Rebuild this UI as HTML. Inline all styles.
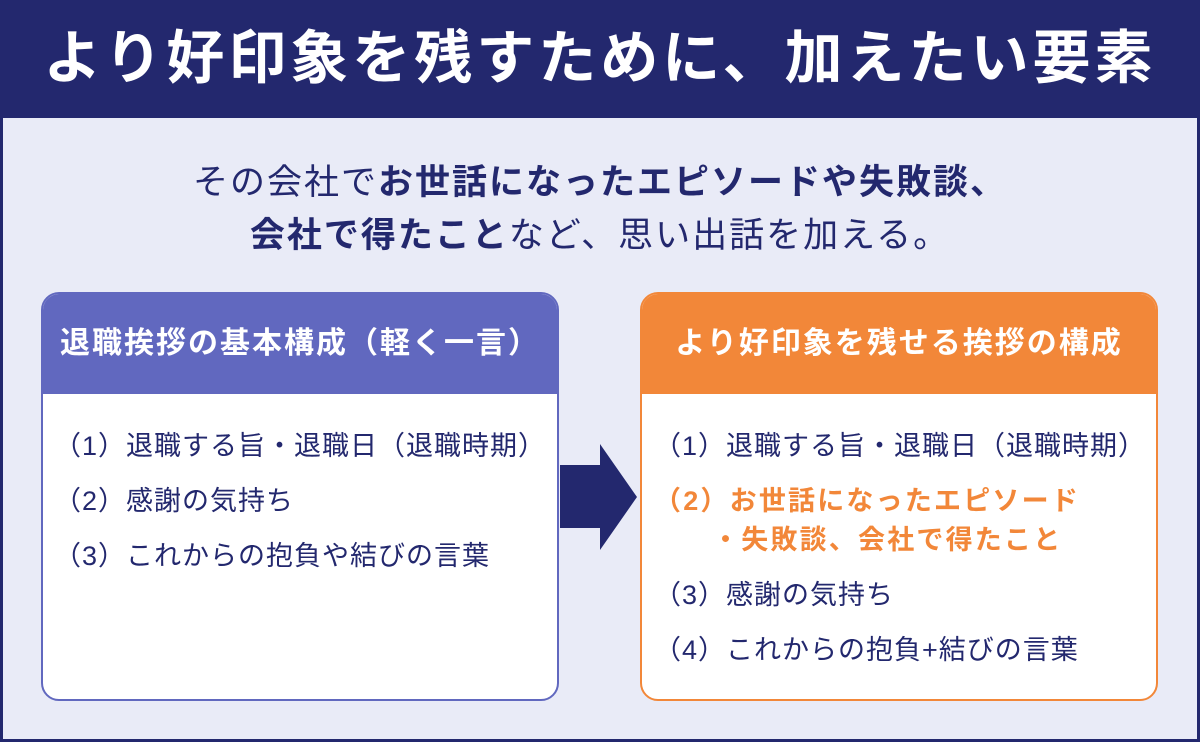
<!DOCTYPE html>
<html><head><meta charset="utf-8"><style>
*{margin:0;padding:0;box-sizing:border-box}
body{width:1200px;height:742px;overflow:hidden;background:#23286e;font-family:"Liberation Sans","Noto Sans CJK JP",sans-serif;position:relative}
#main{position:absolute;left:3px;top:118px;width:1194px;height:621px;background:#e9ebf7}
.title{position:absolute;left:0;top:0;width:1200px;height:118px;color:#fff;font-weight:bold;font-size:58px;letter-spacing:4px;text-align:center;line-height:118px}
.sub{position:absolute;left:0;width:1200px;text-align:center;color:#23286e;font-size:35px;letter-spacing:2px;line-height:40px}
.box{position:absolute;top:292px;width:518px;height:409px;border-radius:18px;background:#fff;overflow:hidden}
.hd{height:100px;color:#fff;font-weight:bold;font-size:30px;letter-spacing:2px;text-align:center;line-height:100px}
.it{position:absolute;font-size:27px;letter-spacing:1px;color:#23286e;white-space:nowrap;line-height:30px}
.or{color:#f28739;font-weight:bold;letter-spacing:2.2px}
</style></head><body>
<div class="title">より好印象を残すために、加えたい要素</div>
<div id="main"></div>
<div class="sub" style="top:163px">その会社で<b>お世話になったエピソードや失敗談、</b></div>
<div class="sub" style="top:216px"><b>会社で得たこと</b>など、思い出話を加える。</div>
<div class="box" style="left:41px;border:2px solid #6168bf">
<div class="hd" style="background:#6168bf">退職挨拶の基本構成（軽く一言）</div></div>
<div class="it" style="left:54px;top:431px">（1）退職する旨・退職日（退職時期）</div>
<div class="it" style="left:54px;top:486px">（2）感謝の気持ち</div>
<div class="it" style="left:54px;top:541px">（3）これからの抱負や結びの言葉</div>
<div class="box" style="left:640px;border:2px solid #f28739">
<div class="hd" style="background:#f28739">より好印象を残せる挨拶の構成</div></div>
<div class="it" style="left:654px;top:431px">（1）退職する旨・退職日（退職時期）</div>
<div class="it or" style="left:654px;top:486px">（2）お世話になったエピソード</div>
<div class="it or" style="left:712px;top:525px">・失敗談、会社で得たこと</div>
<div class="it" style="left:654px;top:580px">（3）感謝の気持ち</div>
<div class="it" style="left:654px;top:635px">（4）これからの抱負+結びの言葉</div>
<svg style="position:absolute;left:0;top:0" width="1200" height="742"><polygon points="560,465 600,465 600,444 637,497 600,550 600,528 560,528" fill="#23286e"/></svg>
</body></html>
